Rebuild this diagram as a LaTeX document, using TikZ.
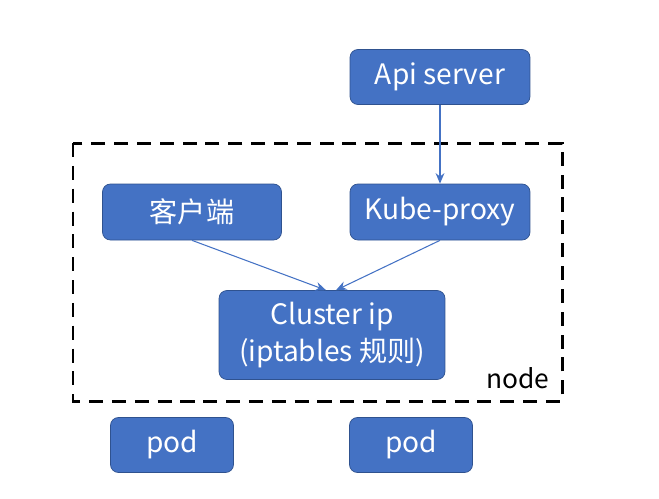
\documentclass[tikz,border=0pt]{standalone}
\usepackage{fontspec}
\setmainfont{Noto Sans CJK SC}
\usetikzlibrary{arrows.meta, positioning}
\definecolor{azul}{RGB}{68, 114, 196}
\definecolor{azulescuro}{RGB}{47, 82, 143}

\begin{document}
\begin{tikzpicture}[
    x=0.02cm,
    y=-0.02cm,
    bloco/.style={
        draw=azulescuro,
        fill=azul,
        rounded corners=4.5pt,
        minimum width=3.6cm,
        minimum height=1.1cm,
        align=center,
        text=white,
        font=\fontsize{16}{21}\selectfont
    },
    seta/.style={
        -{Stealth[length=6pt, width=5pt]},
        draw=azul,
        line width=0.6pt
    },
    moldura/.style={
        draw=black,
        line width=1.7pt,
        dash pattern=on 8pt off 5pt
    }
]

\useasboundingbox (0,0) rectangle (659,498);

% =================================================
% NODE (caixa tracejada)
% =================================================

\draw[moldura] (73,143) rectangle (562,401);

\node[
    anchor=south east,
    font=\fontsize{15}{18}\selectfont,
    inner sep=2pt
] (rotulo) at (553,393)
{node};

% =================================================
% BLOCOS
% =================================================

\node[bloco] (api) at (440,77)
{Api server};

\node[bloco, minimum width=3.58cm, minimum height=1.12cm] (cliente) at (192,212)
{客户端};

\node[bloco, minimum height=1.12cm] (proxy) at (440,212)
{Kube-proxy};

\node[
    bloco,
    minimum width=4.52cm,
    minimum height=1.78cm
] (cluster) at (332,335)
{Cluster ip\\(iptables 规则)};

\node[bloco, minimum width=2.46cm] (pod1) at (172,445)
{pod};

\node[bloco, minimum width=2.46cm] (pod2) at (411,445)
{pod};

% =================================================
% CONEXOES
% =================================================

\draw[seta] (api.south) -- (proxy.north);
\draw[seta] (cliente.south) -- ([xshift=-0.12cm]cluster.north);
\draw[seta] (proxy.south) -- ([xshift=0.08cm]cluster.north);

\end{tikzpicture}
\end{document}
